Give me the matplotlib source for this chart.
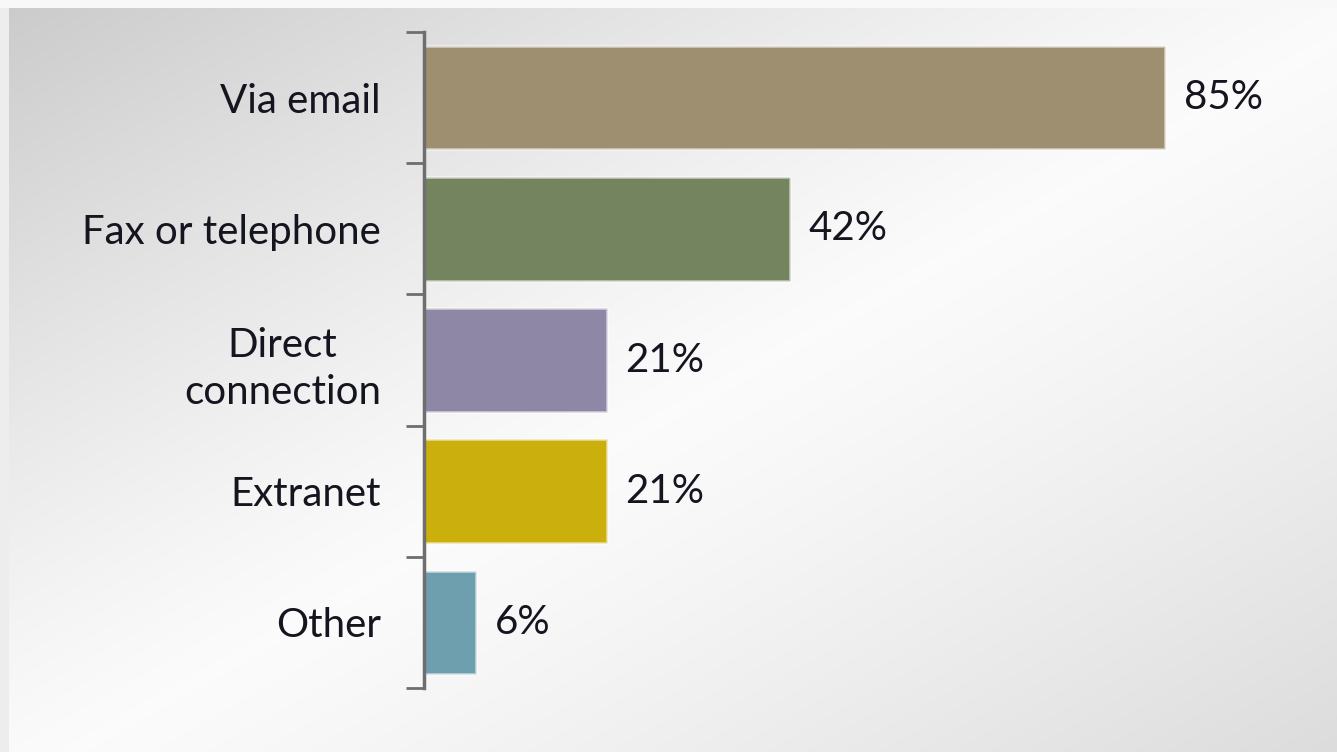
import numpy as np
import matplotlib
matplotlib.use("Agg")
import matplotlib.pyplot as plt

categories = ["Via email", "Fax or telephone", "Direct\nconnection", "Extranet", "Other"]
values = [85, 42, 21, 21, 6]
value_labels = ["85%", "42%", "21%", "21%", "6%"]
colors = ["#9d8f6f", "#74845e", "#8e88a6", "#cbaf0c", "#6e9fae"]

W, H = 1337, 752
fig = plt.figure(figsize=(W / 100, H / 100), dpi=100)

# background gradient: darker at top-left and bottom-right corners
bg = fig.add_axes([0, 0, 1, 1], zorder=0)
yy, xx = np.mgrid[0:H, 0:W]
u = xx / W
v = yy / H
s = u + v - 1.05
a = np.where(s < 0, 0.18, 0.13)
b = 0.985 - a * np.abs(s) ** 1.2
b[:, :9] = 0.93
b[:8, :] = 0.975
img = np.dstack([b, b, b])
bg.imshow(img, aspect="auto", extent=[0, 1, 0, 1], origin="upper")
bg.axis("off")

ax = fig.add_axes([424 / W, 1 - 688 / H, 872 / W, (688 - 32) / H], zorder=1)
ax.patch.set_alpha(0)
ypos = np.arange(len(categories))
ax.barh(ypos, values, height=0.79, color=colors, edgecolor=(1, 1, 1, 0.5), linewidth=2)
ax.set_xlim(0, 100)
ax.set_ylim(len(categories) - 0.5, -0.5)

font = dict(family=["Lato", "DejaVu Sans"], size=29, color="#151520")
for y, val, lab in zip(ypos, values, value_labels):
    ax.text(val + 2.1, y, lab, va="center", ha="left", **font)

ax.set_yticks(ypos)
ax.set_yticklabels(categories, fontdict=font, ha="right", multialignment="center",
                   linespacing=1.35)
ax.tick_params(axis="y", which="major", length=0, pad=31)
ax.set_yticks(np.arange(-0.5, len(categories)), minor=True)
ax.tick_params(axis="y", which="minor", length=13, width=2, color="#6e6e6e")
ax.set_xticks([])
for sp in ["top", "right", "bottom"]:
    ax.spines[sp].set_visible(False)
ax.spines["left"].set_color("#6e6e6e")
ax.spines["left"].set_linewidth(2.5)

fig.savefig("out.png", dpi=100)
